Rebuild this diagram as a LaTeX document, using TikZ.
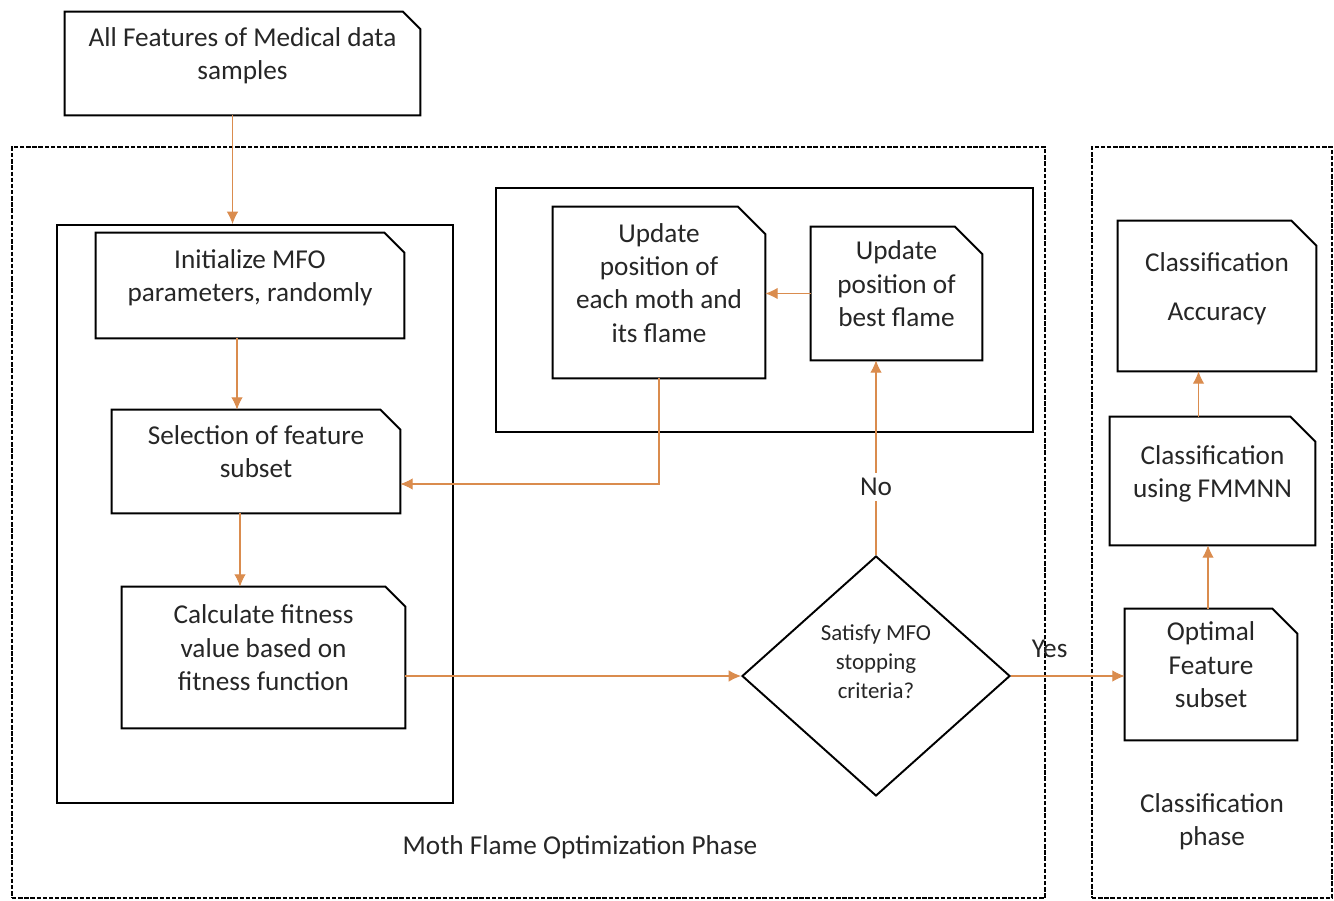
\documentclass[tikz,border=0pt]{standalone}
\usepackage{fontspec}
\setmainfont{Carlito}
\usetikzlibrary{arrows.meta,shapes.geometric,calc}
\definecolor{flow}{RGB}{218,140,78}
\def\lift{\\[-8pt]\mbox{}}

\begin{document}
\begin{tikzpicture}[auto, >={Latex[length=7pt,width=6.5pt]}]
    \tikzstyle{every node} = [font=\fontsize{15.5}{19}\selectfont, text=black!85]
    \tikzstyle{card} = [align=center, inner sep=0pt]
    \tikzstyle{decision} = [diamond, draw, line width=1.1pt, align=center, inner sep=0pt, font=\fontsize{13}{16.5}\selectfont]
    \tikzstyle{phase} = [draw, line width=1.1pt, dash pattern=on 2.5pt off 1pt]
    \tikzstyle{panel} = [draw, line width=1.1pt]
    \tikzstyle{flowline} = [->, draw=flow, line width=0.6pt]

    \useasboundingbox (0,0) rectangle (26.68,-18.02);

    % phases and groups
    \node (mfo) [phase, minimum width=20.66cm, minimum height=15.02cm] at (10.57,-10.45) {};
    \node (cls) [phase, minimum width=4.8cm, minimum height=15.02cm] at (24.24,-10.45) {};
    \node (loop) [panel, minimum width=7.92cm, minimum height=11.56cm] at (5.1,-10.28) {};
    \node (update) [panel, minimum width=10.74cm, minimum height=4.88cm] at (15.29,-6.2) {};
    \node (mfolabel) at (11.6,-16.94) {Moth Flame Optimization Phase};
    \node (clslabel) [align=center] at (24.24,-16.44) {Classification\\phase};

    % steps
    \node (input) [card, minimum width=7.1cm, minimum height=2.06cm] at (4.85,-1.27) {All Features of Medical data\\samples\lift};
    \node (init) [card, minimum width=6.16cm, minimum height=2.1cm] at (5.0,-5.71) {Initialize MFO\\parameters, randomly\lift};
    \node (select) [card, minimum width=5.76cm, minimum height=2.06cm] at (5.12,-9.23) {Selection of feature\\subset\lift};
    \node (calc) [card, minimum width=5.66cm, minimum height=2.82cm] at (5.27,-13.15) {Calculate fitness\\value based on\\fitness function\lift};
    \node (moth) [card, minimum width=4.24cm, minimum height=3.42cm] at (13.18,-5.85) {Update\\position of\\each moth and\\its flame\lift};
    \node (best) [card, minimum width=3.42cm, minimum height=2.66cm] at (17.93,-5.87) {Update\\position of\\best flame\lift};
    \node (stop) [decision, minimum width=5.36cm, minimum height=4.8cm] at (17.52,-13.52) {Satisfy MFO\\stopping\\criteria?\\\mbox{}};
    \node (optimal) [card, minimum width=3.44cm, minimum height=2.62cm] at (24.22,-13.49) {Optimal\\Feature\\subset\lift};
    \node (fmmnn) [card, minimum width=4.1cm, minimum height=2.56cm] at (24.25,-9.62) {Classification\\using FMMNN\lift};
    \node (accuracy) [card, minimum width=3.96cm, minimum height=3.0cm] at (24.34,-5.92) {Classification\\[9pt]Accuracy\lift};

    % snipped outlines
    \foreach \n/\s in {input/0.35, init/0.4, select/0.4, calc/0.4, moth/0.55, best/0.55, optimal/0.5, fmmnn/0.5, accuracy/0.5}
        \draw[line width=1.1pt] (\n.south west) -- (\n.north west) -- ($(\n.north east)+(-\s,0)$) -- ($(\n.north east)+(0,-\s)$) -- (\n.south east) -- cycle;

    \draw [flowline] ([xshift=-0.2cm]input.south) -- ([xshift=-0.2cm]input.south |- loop.north);
    \draw [flowline] ([xshift=-0.26cm]init.south) -- ([xshift=-0.26cm]init.south |- select.north);
    \draw [flowline] ([xshift=-0.32cm]select.south) -- ([xshift=-0.32cm]select.south |- calc.north);
    \draw [flowline] (calc.east |- stop.west) -- (stop.west);
    \draw [flowline] (stop.north) -- node[pos=0.35, anchor=center, fill=white, inner sep=3pt] {No} (stop.north |- best.south);
    \draw [flowline] (best.west) -- (best.west -| moth.east);
    \draw [flowline] (moth.south) |- ([yshift=-0.45cm]select.east);
    \draw [flowline] (stop.east) -- node[pos=0.34, above=7pt] {Yes} (stop.east -| optimal.west);
    \draw [flowline] ([xshift=-0.06cm]optimal.north) -- ([xshift=-0.06cm]optimal.north |- fmmnn.south);
    \draw [flowline] ([xshift=-0.28cm]fmmnn.north) -- ([xshift=-0.28cm]fmmnn.north |- accuracy.south);
\end{tikzpicture}
\end{document}
